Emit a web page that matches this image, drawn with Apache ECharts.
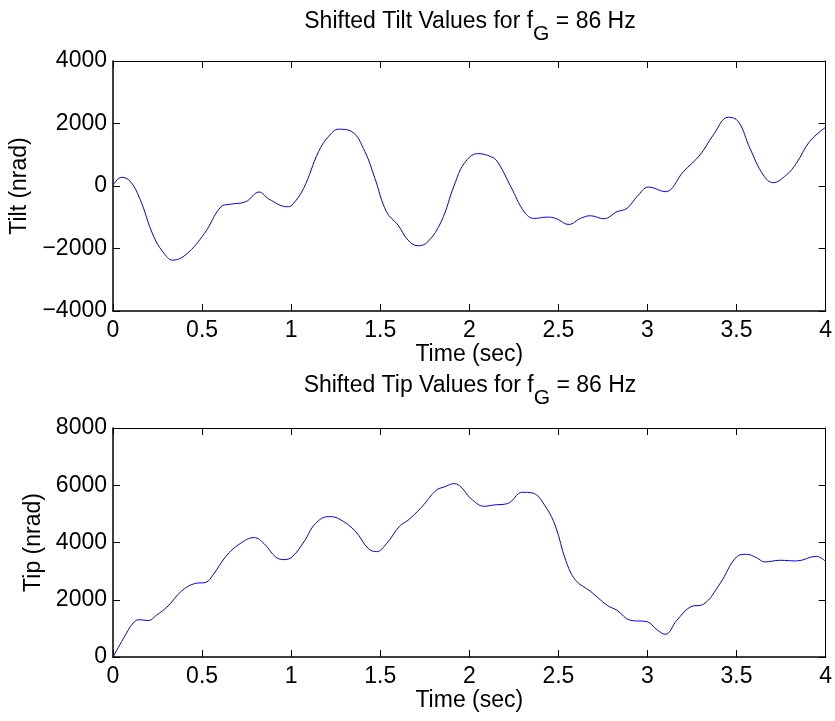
<!DOCTYPE html>
<html>
<head>
<meta charset="utf-8">
<script src="https://cdn.jsdelivr.net/npm/echarts@6/dist/echarts.min.js"></script>
<style>html,body{margin:0;padding:0;background:#fff}#c{width:835px;height:721px}</style>
</head>
<body>
<div id="c"></div>
<script>
const tiltTime = [0, 0.048, 0.095, 0.15, 0.225, 0.28, 0.336, 0.41, 0.513, 0.606, 0.652, 0.745, 0.82, 0.875, 0.978, 1.005, 1.07, 1.154, 1.21, 1.266, 1.34, 1.414, 1.47, 1.535, 1.6, 1.656, 1.712, 1.767, 1.842, 1.916, 1.972, 2.047, 2.121, 2.158, 2.233, 2.308, 2.363, 2.438, 2.485, 2.559, 2.624, 2.68, 2.755, 2.829, 2.885, 2.941, 3.007, 3.1, 3.202, 3.295, 3.37, 3.454, 3.51, 3.575, 3.65, 3.705, 3.78, 3.836, 3.91, 4.0];
const tiltValue = [30, 278, 160, -396, -1572, -2107, -2374, -2192, -1519, -663, -588, -503, -193, -417, -663, -610, -75, 1101, 1583, 1818, 1743, 1101, 246, -823, -1251, -1733, -1914, -1786, -1144, 32, 727, 1037, 941, 780, -21, -823, -1037, -995, -1037, -1230, -1037, -952, -1048, -823, -717, -342, -32, -182, 460, 995, 1636, 2203, 2064, 1208, 353, 107, 353, 727, 1422, 1880];
const tipTime = [0, 0.058, 0.113, 0.15, 0.197, 0.243, 0.309, 0.383, 0.457, 0.522, 0.56, 0.634, 0.708, 0.792, 0.848, 0.913, 0.959, 1.005, 1.071, 1.136, 1.21, 1.266, 1.359, 1.433, 1.48, 1.535, 1.61, 1.656, 1.73, 1.814, 1.86, 1.916, 1.953, 2.009, 2.084, 2.14, 2.214, 2.298, 2.354, 2.429, 2.485, 2.541, 2.597, 2.68, 2.774, 2.829, 2.904, 2.997, 3.053, 3.1, 3.165, 3.24, 3.314, 3.407, 3.5, 3.556, 3.612, 3.659, 3.743, 3.836, 3.948, 4.0];
const tipValue = [0, 641, 1188, 1305, 1270, 1456, 1782, 2295, 2563, 2610, 2854, 3518, 3938, 4171, 3961, 3495, 3402, 3495, 4019, 4660, 4905, 4835, 4404, 3786, 3681, 3961, 4578, 4777, 5219, 5825, 5942, 6058, 5942, 5534, 5266, 5312, 5359, 5755, 5732, 5243, 4544, 3379, 2680, 2295, 1806, 1631, 1282, 1235, 955, 792, 1282, 1747, 1841, 2563, 3495, 3588, 3472, 3320, 3379, 3355, 3518, 3340];
const xTicks = {min: 0, max: 4, interval: 0.5};
const tiltTicks = {min: -4000, max: 4000, interval: 2000};
const tipTicks = {min: 0, max: 8000, interval: 2000};
const title1 = ['Shifted Tilt Values for f', 'G', ' = 86 Hz'];
const title2 = ['Shifted Tip Values for f', 'G', ' = 86 Hz'];
const xName = 'Time (sec)';
const tiltName = 'Tilt (nrad)';
const tipName = 'Tip (nrad)';

const FONT = "'Liberation Sans', Arial, Helvetica, sans-serif";
const FS = 23;
const pair = (t, v) => t.map((x, i) => [x, v[i]]);
const minus = v => String(v).replace('-', '\u2212');

function xAx(grid, main) {
  return {
    type: 'value', gridIndex: grid, position: main ? 'bottom' : 'top',
    min: xTicks.min, max: xTicks.max, interval: xTicks.interval,
    name: main ? xName : '', nameLocation: 'middle', nameGap: 32,
    nameTextStyle: {fontFamily: FONT, fontSize: FS, color: '#000'},
    axisLine: {show: true, onZero: false, lineStyle: {color: '#000', width: main ? 1.5 : 1}},
    axisTick: {show: true, inside: true, length: 7, lineStyle: {color: '#000'}},
    axisLabel: {show: main, margin: 8, fontFamily: FONT, fontSize: FS, color: '#000', formatter: v => minus(v)},
    splitLine: {show: false}
  };
}
function yAx(grid, main, ticks, name, gap) {
  return {
    type: 'value', gridIndex: grid, position: main ? 'left' : 'right',
    min: ticks.min, max: ticks.max, interval: ticks.interval,
    name: main ? name : '', nameLocation: 'middle', nameGap: gap,
    nameTextStyle: {fontFamily: FONT, fontSize: FS, color: '#000'},
    axisLine: {show: true, onZero: false, lineStyle: {color: '#000', width: main ? 1.5 : 1}},
    axisTick: {show: true, inside: true, length: 7, lineStyle: {color: '#000'}},
    axisLabel: {show: main, margin: 6, fontFamily: FONT, fontSize: FS, color: '#000', formatter: v => minus(v)},
    splitLine: {show: false}
  };
}
function titleText(parts, y) {
  return {
    type: 'text', x: 470, y: y,
    style: {
      text: '{n|' + parts[0] + '}{s|' + parts[1] + '}{n|' + parts[2] + '}',
      align: 'center', verticalAlign: 'top', fill: '#000',
      rich: {
        n: {fontFamily: FONT, fontSize: FS, lineHeight: 23, verticalAlign: 'top', fill: '#000'},
        s: {fontFamily: FONT, fontSize: 21, lineHeight: 49, fill: '#000'}
      }
    }
  };
}

const chart = echarts.init(document.getElementById('c'), null, {renderer: 'canvas'});
chart.setOption({
  backgroundColor: '#fff',
  animation: false,
  grid: [
    {left: 113, top: 61, width: 717, height: 250},
    {left: 113, top: 428, width: 717, height: 229}
  ],
  xAxis: [xAx(0, true), xAx(0, false), xAx(1, true), xAx(1, false)],
  yAxis: [yAx(0, true, tiltTicks, tiltName, 81), yAx(0, false, tiltTicks, '', 0),
          yAx(1, true, tipTicks, tipName, 68), yAx(1, false, tipTicks, '', 0)],
  graphic: [titleText(title1, 10), titleText(title2, 374)],
  series: [
    {type: 'line', xAxisIndex: 0, yAxisIndex: 0, data: pair(tiltTime, tiltValue), smooth: 0.4,
     showSymbol: false, lineStyle: {color: '#0000ff', width: 1}},
    {type: 'line', xAxisIndex: 2, yAxisIndex: 2, data: pair(tipTime, tipValue), smooth: 0.4,
     showSymbol: false, lineStyle: {color: '#0000ff', width: 1}}
  ]
});
</script>
</body>
</html>
